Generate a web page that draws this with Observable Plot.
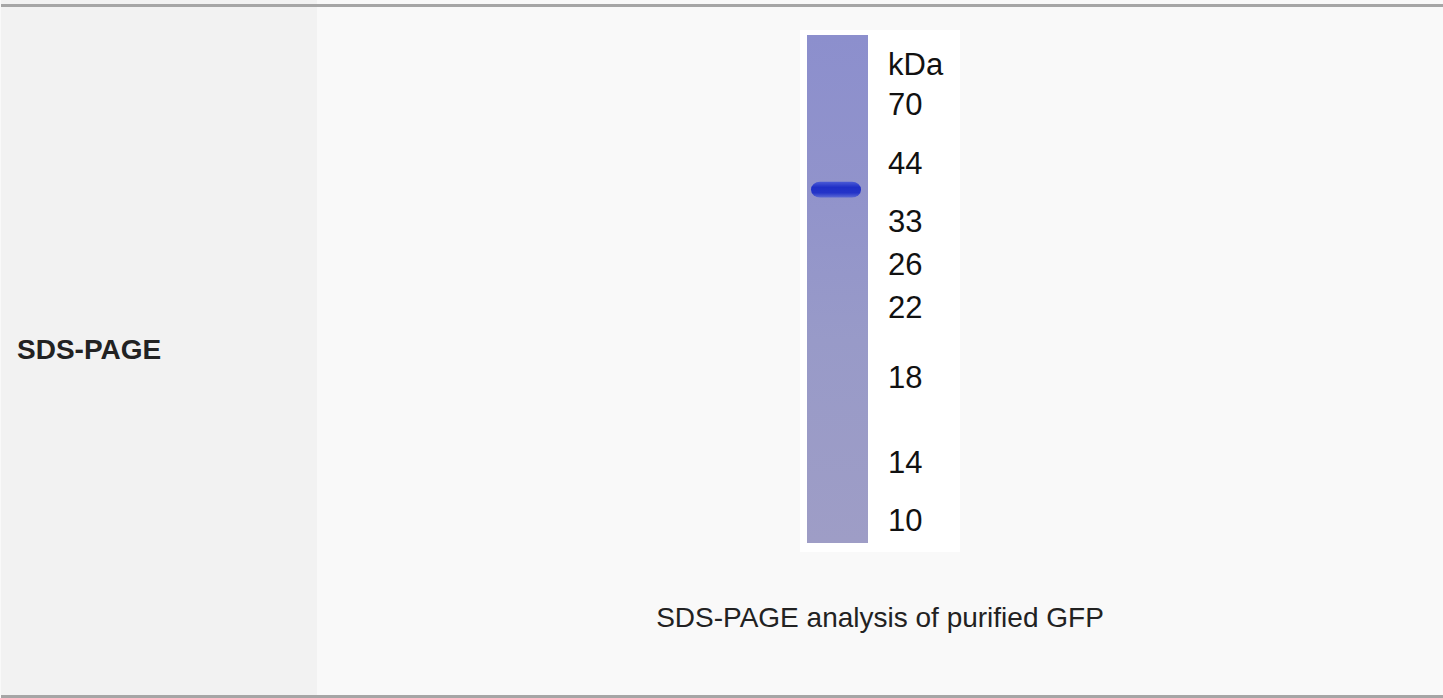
<!DOCTYPE html>
<html>
<head>
<meta charset="utf-8">
<script src="https://cdn.jsdelivr.net/npm/d3@7"></script>
<script src="https://cdn.jsdelivr.net/npm/@observablehq/plot@0.6"></script>
<style>
html,body{margin:0;padding:0;}
body{width:1443px;height:698px;position:relative;overflow:hidden;background:#f9f9f9;font-family:"Liberation Sans",Arial,sans-serif;}
#left{position:absolute;left:1px;top:0;width:316px;height:698px;background:#f2f2f2;}
.hline{position:absolute;left:1px;right:0;height:3px;background:#a6a6a6;}
#label{position:absolute;left:17px;top:336px;font-weight:bold;font-size:28px;line-height:28px;color:#222;white-space:nowrap;}
#gel{position:absolute;left:800px;top:30px;line-height:0;}
#caption{position:absolute;left:317px;width:1126px;text-align:center;top:604px;font-size:28px;line-height:28px;color:#222;white-space:nowrap;}
</style>
</head>
<body>
<div id="left"></div>
<div class="hline" style="top:4px"></div>
<div class="hline" style="top:695px"></div>
<div id="label">SDS-PAGE</div>
<div id="gel"></div>
<div id="caption">SDS-PAGE analysis of purified GFP</div>
<script>
// Ladder (marker) labels and their relative migration along the lane (0 = well, 1 = dye front)
const markerLabels = ["kDa", "70", "44", "33", "26", "22", "18", "14", "10"];
const markerMigration = [0.059, 0.136, 0.254, 0.368, 0.451, 0.537, 0.675, 0.841, 0.955];

// Sample lane
const laneNames = ["sample"];
const laneTop = [0];
const laneBottom = [1];

// Detected protein band(s) in the sample lane (relative migration extent)
const bandLane = ["sample"];
const bandTop = [0.289];
const bandBottom = [0.320];

const markers = markerLabels.map((label, i) => ({label, migration: markerMigration[i], col: "marker"}));
const lanes = laneNames.map((lane, i) => ({lane, top: laneTop[i], bottom: laneBottom[i]}));
const bands = bandLane.map((lane, i) => ({lane, top: bandTop[i], bottom: bandBottom[i]}));

const gel = Plot.plot({
  width: 160,
  height: 522,
  margin: 0,
  style: {background: "#ffffff", fontFamily: "'Liberation Sans', Arial, sans-serif", overflow: "visible"},
  x: {type: "band", domain: ["sample", "marker"], range: [7, 148], paddingInner: 0.2375, paddingOuter: 0, axis: null},
  y: {domain: [0, 1], range: [5, 513], axis: null},
  marks: [
    Plot.barY(lanes, {x: "lane", y1: "top", y2: "bottom", fill: "url(#laneGrad)", ariaLabel: "lane"}),
    Plot.barY(bands, {x: "lane", y1: "top", y2: "bottom", fill: "url(#bandGrad)", insetLeft: 4, insetRight: 7, rx: 9, ariaLabel: "band"}),
    Plot.text(markers, {x: "col", y: "migration", text: "label", textAnchor: "start", dx: -30, fontSize: 31, fill: "#111111"})
  ]
});

const svg = d3.select(gel);
const defs = svg.insert("defs", ":first-child");
const lg = defs.append("linearGradient").attr("id", "laneGrad").attr("x1", 0).attr("y1", 0).attr("x2", 0).attr("y2", 1);
[["0%", "#8c8fcd"], ["30%", "#9193cb"], ["60%", "#989ac8"], ["100%", "#9e9dc6"]].forEach(([o, c]) =>
  lg.append("stop").attr("offset", o).attr("stop-color", c));
const bg = defs.append("linearGradient").attr("id", "bandGrad").attr("x1", 0).attr("y1", 0).attr("x2", 0).attr("y2", 1);
[["0%", "#4a5ad6"], ["35%", "#1f2fc6"], ["70%", "#2434c8"], ["100%", "#5c6ad4"]].forEach(([o, c]) =>
  bg.append("stop").attr("offset", o).attr("stop-color", c));
defs.append("filter").attr("id", "soft").attr("x", "-20%").attr("y", "-50%").attr("width", "140%").attr("height", "200%")
  .append("feGaussianBlur").attr("stdDeviation", 1.2);
svg.selectAll('g[aria-label="band"]').attr("filter", "url(#soft)");

document.getElementById("gel").appendChild(gel);
</script>
</body>
</html>
